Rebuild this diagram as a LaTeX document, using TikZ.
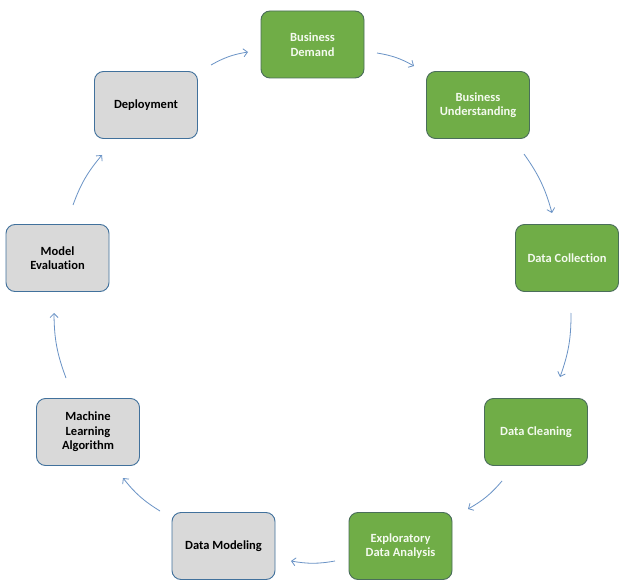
\documentclass[tikz,border=0pt]{standalone}
\usepackage{fontspec}
\setmainfont{Carlito}[BoldFont={Carlito Bold},Ligatures=NoCommon]
\usetikzlibrary{arrows.meta}
\definecolor{gfill}{HTML}{70AD47}
\definecolor{gborder}{HTML}{4A6E5A}
\definecolor{gyfill}{HTML}{D9D9D9}
\definecolor{gyborder}{HTML}{41719C}
\definecolor{arr}{HTML}{6A93C6}
\definecolor{gtext}{HTML}{F4FAEF}
\tikzset{
  box/.style={rounded corners=9pt, minimum width=103pt, minimum height=67pt,
    align=center, font=\fontsize{12.5}{14.5}\selectfont\bfseries, line width=0.9pt, inner sep=2pt},
  greenbox/.style={box, fill=gfill, draw=gborder, text=gtext},
  graybox/.style={box, fill=gyfill, draw=gyborder, text=black},
  flow/.style={draw=arr, line width=0.8pt, -{Straight Barb[length=4pt,width=8pt]}, bend left=10}
}
\begin{document}
\begin{tikzpicture}[x=1pt,y=-1pt]
\useasboundingbox (0,0) rectangle (624,588);
\fill[white] (0,0) rectangle (624,588);
\node[greenbox] (bd) at (312.5,44.5) {Business\\Demand};
\node[greenbox] (bu) at (478,105) {Business\\Understanding};
\node[greenbox] (dc) at (567,258) {Data Collection};
\node[greenbox] (dcl) at (536,432) {Data Cleaning};
\node[greenbox] (eda) at (400.5,546) {Exploratory\\Data Analysis};
\node[graybox] (dm) at (223.5,546) {Data Modeling};
\node[graybox] (mla) at (88,432) {Machine\\Learning\\Algorithm};
\node[graybox] (me) at (57.5,258) {Model\\Evaluation};
\node[graybox] (dep) at (146,105) {Deployment};
\coordinate (a1s) at (211,65); \coordinate (a1e) at (248,52);
\coordinate (a2s) at (377,53); \coordinate (a2e) at (414,66);
\coordinate (a3s) at (524,154); \coordinate (a3e) at (552,213);
\coordinate (a4s) at (571,313); \coordinate (a4e) at (560,377);
\coordinate (a5s) at (502,481); \coordinate (a5e) at (468,509);
\coordinate (a6s) at (335,561); \coordinate (a6e) at (291,561);
\coordinate (a7s) at (160,511); \coordinate (a7e) at (123,478);
\coordinate (a8s) at (66,378); \coordinate (a8e) at (54,313);
\coordinate (a9s) at (73,205); \coordinate (a9e) at (102,155);
\draw[flow] (a1s) to (a1e);
\draw[flow] (a2s) to (a2e);
\draw[flow] (a3s) to (a3e);
\draw[flow] (a4s) to (a4e);
\draw[flow] (a5s) to (a5e);
\draw[flow] (a6s) to (a6e);
\draw[flow] (a7s) to (a7e);
\draw[flow] (a8s) to (a8e);
\draw[flow] (a9s) to (a9e);
\end{tikzpicture}
\end{document}
